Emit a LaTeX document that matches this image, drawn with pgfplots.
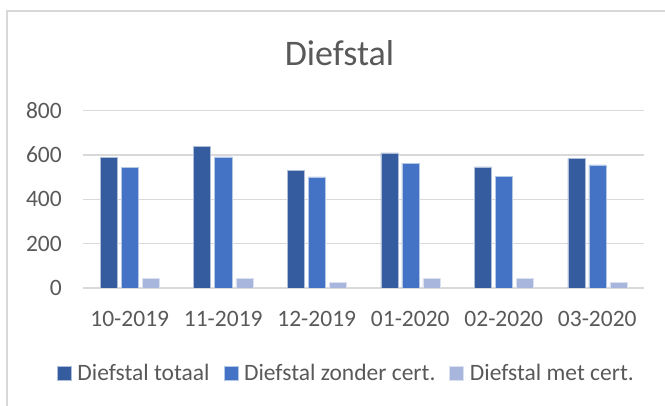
\documentclass[border=0pt]{standalone}
\usepackage{fontspec}
\setmainfont{Carlito}
\usepackage{pgfplots}
\pgfplotsset{compat=1.18}
\definecolor{cDark}{HTML}{345C9F}
\definecolor{cMid}{HTML}{4472C4}
\definecolor{cLight}{HTML}{A8B5DC}
\definecolor{cText}{HTML}{595959}
\definecolor{cGrid}{HTML}{D9D9D9}
\begin{document}
\begin{tikzpicture}[x=1pt,y=1pt]
\useasboundingbox (0,0) rectangle (665,406);
\draw[cGrid, line width=1.2pt] (7,-20) -- (7,395) -- (720,395);
\node[anchor=base, text=cText, font=\fontsize{36}{40}\selectfont] at (339.5,340) {Diefstal};
\begin{axis}[
  at={(83pt,118pt)}, anchor=south west,
  scale only axis, width=561pt, height=177.3pt,
  ymin=0, ymax=800, ytick={0,200,...,800},
  xmin=-0.5, xmax=5.5,
  xtick=data, xticklabels={10-2019,11-2019,12-2019,01-2020,02-2020,03-2020},
  ymajorgrids, grid style={cGrid, line width=1.2pt},
  axis line style={draw=none},
  major tick length=0pt,
  ybar=4pt, bar width=17pt,
  ticklabel style={text=cText, font=\fontsize{23.5}{26}\selectfont, inner sep=0pt},
  yticklabel style={anchor=east, xshift=-21pt},
  xticklabel style={anchor=north, yshift=-23.5pt},
  /pgf/number format/assume math mode=true,
  legend columns=3,
  legend style={draw=none, fill=none, at={(0.4677,-0.479)}, anchor=center,
    font=\fontsize{23.5}{26}\selectfont, text=cText, inner sep=0pt,
    nodes={inner sep=0pt},
    /tikz/every odd column/.append style={column sep=6pt},
    /tikz/every even column/.append style={column sep=14pt}},
  legend image code/.code={\fill[#1] (0pt,-7pt) rectangle (14pt,7pt);},
]
\addplot[fill=cDark, draw=white!60!cDark, line width=0.5pt] coordinates {(0,589) (1,639) (2,531) (3,610) (4,547) (5,585)};
\addplot[fill=cMid, draw=white!60!cMid, line width=0.5pt] coordinates {(0,544) (1,592) (2,501) (3,564) (4,502) (5,556)};
\addplot[fill=cLight, draw=white!60!cLight, line width=0.5pt] coordinates {(0,42) (1,44) (2,27) (3,44) (4,42) (5,26)};
\legend{Diefstal totaal, Diefstal zonder cert., Diefstal met cert.}
\end{axis}
\end{tikzpicture}
\end{document}
